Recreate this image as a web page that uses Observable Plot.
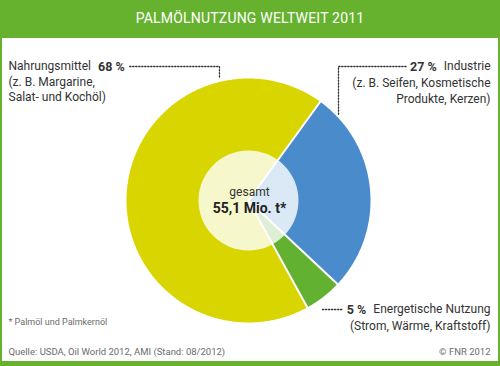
<!DOCTYPE html>
<html>
<head>
<meta charset="utf-8">
<script src="https://cdn.jsdelivr.net/npm/d3@7"></script>
<script src="https://cdn.jsdelivr.net/npm/@observablehq/plot@0.6"></script>
<style>
  html, body { margin: 0; padding: 0; background: #fff; }
  #frame { position: relative; width: 500px; height: 366px; background: #66b22e; overflow: hidden; font-family: Roboto, "Liberation Sans", sans-serif; }
  #inner { position: absolute; left: 2px; top: 38px; width: 496px; height: 323px; background: #fff; }
  #title { position: absolute; left: 0; top: 0; width: 500px; height: 38px; line-height: 37px; text-align: center; color: #fff; font-size: 14px; font-weight: 400; letter-spacing: 0.2px; }
  #chart { position: absolute; left: 0; top: 0; }
</style>
</head>
<body>
<div id="frame">
  <div id="inner"></div>
  <div id="title"></div>
  <div id="chart"></div>
</div>
<script>
// ---- data ----
const titleText = "PALMÖLNUTZUNG WELTWEIT 2011";
const categories = ["Nahrungsmittel", "Industrie", "Energetische Nutzung"];
const shares = [68, 27, 5];
const percentLabels = ["68 %", "27 %", "5 %"];
const descriptions = [
  ["(z. B. Margarine,", "Salat- und Kochöl)"],
  ["(z. B. Seifen, Kosmetische", "Produkte, Kerzen)"],
  ["(Strom, Wärme, Kraftstoff)"]
];
const colors = ["#d8d500", "#4a8bcb", "#62b130"];
const totalLabels = ["gesamt", "55,1 Mio. t*"];
const footnote = "* Palmöl und Palmkernöl";
const sourceText = "Quelle: USDA, Oil World 2012, AMI (Stand: 08/2012)";
const copyrightText = "© FNR 2012";

// ---- layout ----
const W = 500, H = 366;
const cx = 248, cy = 200, R = 122, rInner = 50;
const startDeg = 151.2;
const ink = "#333333", grey = "#6b6b6b";
const FONT = "Roboto, 'Liberation Sans', sans-serif";

document.getElementById("title").textContent = titleText;

const ctx = document.createElement("canvas").getContext("2d");
const measure = (t, size, weight) => { ctx.font = `${weight} ${size}px Roboto`; return ctx.measureText(t).width; };

const arcs = d3.pie().sort(null).value(d => d)
  .startAngle(startDeg * Math.PI / 180)
  .endAngle(startDeg * Math.PI / 180 + 2 * Math.PI)(shares);

const pt = (a, r) => ({x: cx + r * Math.sin(a), y: cy - r * Math.cos(a)});

const slicePts = [];
arcs.forEach((a, i) => {
  const cat = categories[i];
  slicePts.push({cat, ...pt(0, 0)});
  const n = Math.max(2, Math.ceil((a.endAngle - a.startAngle) / (Math.PI / 360)));
  for (let k = 0; k <= n; k++) {
    const ang = a.startAngle + (a.endAngle - a.startAngle) * k / n;
    slicePts.push({cat, ...pt(ang, R)});
  }
  slicePts.push({cat, ...pt(0, 0)});
});
const separators = arcs.map(a => ({x1: cx, y1: cy, x2: pt(a.startAngle, R + 1).x, y2: pt(a.startAngle, R + 1).y}));

const gap = 7;
const p0x = 8 + measure(categories[0], 12, "normal") + gap;
const p0end = p0x + measure(percentLabels[0], 12.5, "bold");
const p1end = 490 - measure(categories[1], 12, "normal") - gap;
const p1start = p1end - measure(percentLabels[1], 12.5, "bold");
const p2end = 490 - measure(categories[2], 12, "normal") - gap;
const p2start = p2end - measure(percentLabels[2], 12.5, "bold");

// leader lines (layout)
const leaders = [
  {id: 0, pts: [[p0end + 5, 66], [219, 66], [219, 78]]},
  {id: 1, pts: [[p1start - 4, 66], [338, 66], [338, 114]]},
  {id: 2, pts: [[322, 309], [p2start - 4, 309]]}
];
const leaderPts = leaders.flatMap(l => l.pts.map(([x, y]) => ({id: l.id, x, y})));

const txt = [];
txt.push({x: 8, y: 66, t: categories[0], a: "start", w: "normal", s: 12, c: ink});
txt.push({x: p0x, y: 66, t: percentLabels[0], a: "start", w: "bold", s: 12.5, c: ink});
txt.push({x: 8, y: 82, t: descriptions[0][0], a: "start", w: "normal", s: 12, c: ink});
txt.push({x: 8, y: 97, t: descriptions[0][1], a: "start", w: "normal", s: 12, c: ink});
txt.push({x: 490, y: 66, t: categories[1], a: "end", w: "normal", s: 12, c: ink});
txt.push({x: p1end, y: 66, t: percentLabels[1], a: "end", w: "bold", s: 12.5, c: ink});
txt.push({x: 490, y: 83, t: descriptions[1][0], a: "end", w: "normal", s: 12, c: ink});
txt.push({x: 490, y: 99, t: descriptions[1][1], a: "end", w: "normal", s: 12, c: ink});
txt.push({x: 490, y: 309, t: categories[2], a: "end", w: "normal", s: 12, c: ink});
txt.push({x: p2end, y: 309, t: percentLabels[2], a: "end", w: "bold", s: 12.5, c: ink});
txt.push({x: 490, y: 326, t: descriptions[2][0], a: "end", w: "normal", s: 12, c: ink});
txt.push({x: cx + 1, y: 192, t: totalLabels[0], a: "middle", w: "normal", s: 12, c: ink});
txt.push({x: cx + 1, y: 208, t: totalLabels[1], a: "middle", w: "bold", s: 14, c: "#222"});
txt.push({x: 8, y: 322, t: footnote, a: "start", w: "normal", s: 9, c: grey});
txt.push({x: 8, y: 351, t: sourceText, a: "start", w: "normal", s: 9.5, c: grey});
txt.push({x: 490, y: 351, t: copyrightText, a: "end", w: "normal", s: 9.5, c: grey});

const textMarks = ["start", "end", "middle"].flatMap(a =>
  ["normal", "bold"].flatMap(w =>
    [...new Set(txt.filter(d => d.a === a && d.w === w).map(d => d.s + "|" + d.c))].map(key => {
      const [s, c] = key.split("|");
      return Plot.text(txt.filter(d => d.a === a && d.w === w && d.s === +s && d.c === c), {
        x: "x", y: "y", text: "t", textAnchor: a, fontWeight: w, fontSize: +s, fill: c,
        fontFamily: FONT, lineAnchor: "middle"
      });
    })
  )
);

const chart = Plot.plot({
  width: W, height: H,
  margin: 0,
  x: {domain: [0, W], range: [0, W], axis: null},
  y: {domain: [0, H], range: [0, H], axis: null},
  color: {domain: categories, range: colors},
  style: {background: "transparent", overflow: "visible"},
  marks: [
    Plot.line(slicePts, {x: "x", y: "y", z: "cat", fill: "cat", stroke: "none", curve: "linear"}),
    Plot.link(separators, {x1: "x1", y1: "y1", x2: "x2", y2: "y2", stroke: "white", strokeWidth: 2}),
    Plot.dot([{x: cx, y: cy}], {x: "x", y: "y", r: rInner, fill: "white", fillOpacity: 0.8, stroke: "none"}),
    Plot.line(leaderPts, {x: "x", y: "y", z: "id", stroke: "#333", strokeWidth: 1.3, strokeDasharray: "1.3,1.7", curve: "linear"}),
    ...textMarks
  ]
});
document.getElementById("chart").appendChild(chart);
</script>
</body>
</html>
